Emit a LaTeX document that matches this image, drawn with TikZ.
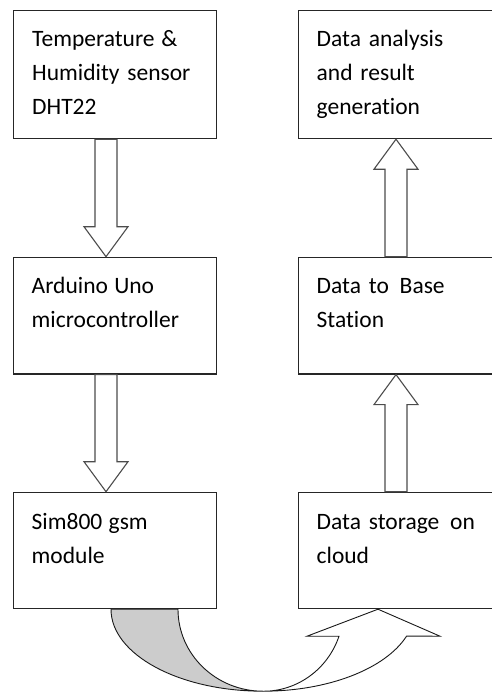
\documentclass[tikz,border=0pt]{standalone}
\usepackage{fontspec}
\setmainfont{Carlito}[Ligatures={NoCommon}]
\usetikzlibrary{calc}

\tikzset{
  blockbox/.style={draw=black!85, line width=1.2pt, anchor=north west, inner sep=0pt, minimum width=203pt, minimum height=116.7pt},
  blocktext/.style={anchor=north west, inner sep=0pt, text width=185pt, align=left, font=\fontsize{23.5}{34}\selectfont},
  fatarrow/.style={draw=black!70, line width=1.1pt, fill=white, line join=miter},
  bendback/.style={draw=black!90, line width=0.9pt, fill=gray!40},
  bendfront/.style={draw=black!90, line width=0.9pt, fill=white},
}

% block arrow from #1 (shaft end) to #2 (tip)
\newcommand{\blockarrow}[2]{%
  \draw[fatarrow] let \p1=(#1), \p2=(#2), \n1={sign(\y2-\y1)} in
    (\x1-11pt,\y1) -- (\x1-11pt,\y2-30pt*\n1) -- (\x1-22pt,\y2-30pt*\n1) -- (\x2,\y2)
    -- (\x1+22pt,\y2-30pt*\n1) -- (\x1+11pt,\y2-30pt*\n1) -- (\x1+11pt,\y1) -- cycle;}

\begin{document}
\begin{tikzpicture}[x=1pt,y=1pt,yscale=-1,xscale=1]
\useasboundingbox (0,0) rectangle (492,693);

%Shape: Rectangle
\node[blockbox, minimum height=128pt] (sensor) at (13,10) {};
%Shape: Rectangle
\node[blockbox, minimum height=128pt, minimum width=196pt] (analysis) at (298,10) {};
%Shape: Rectangle
\node[blockbox] (arduino) at (13,256.7) {};
%Shape: Rectangle
\node[blockbox, minimum width=196pt] (base) at (298,256.7) {};
%Shape: Rectangle
\node[blockbox, minimum height=116.3pt] (gsm) at (13,491.7) {};
%Shape: Rectangle
\node[blockbox, minimum height=116.3pt, minimum width=196pt] (cloud) at (298,491.7) {};

% Text Node
\node[blocktext] (sensortxt) at ([shift={(19,13)}]sensor.north west) {\strut Temperature\hspace{-1pt} \&\\Humidity sensor\\DHT22};
% Text Node
\node[blocktext] (analysistxt) at ([shift={(18.5,13)}]analysis.north west) {\strut Data analysis\\and result\\generation};
% Text Node
\node[blocktext] (arduinotxt) at ([shift={(18.5,13)}]arduino.north west) {\strut Arduino\hspace{-1.5pt} Uno\\microcontroller};
% Text Node
\node[blocktext] (basetxt) at ([shift={(18.5,13)}]base.north west) {\strut Data to\hspace{3pt} Base\\Station};
% Text Node
\node[blocktext] (gsmtxt) at ([shift={(18.5,13.5)}]gsm.north west) {\strut Sim800\hspace{-1.5pt} gsm\\module};
% Text Node
\node[blocktext] (cloudtxt) at ([shift={(18.5,13.5)}]cloud.north west) {\strut Data storage\hspace{3pt} on\\cloud};

%Block Arrows
\blockarrow{[xshift=93pt]sensor.south west}{[xshift=93pt]arduino.north west}
\blockarrow{[xshift=93pt]arduino.south west}{[xshift=93pt]gsm.north west}
\blockarrow{[xshift=98pt]cloud.north west}{[xshift=98pt]base.south west}
\blockarrow{[xshift=98pt]base.north west}{[xshift=98pt]analysis.south west}

%Curved Up Arrow
\coordinate (bendin) at ([xshift=98pt]gsm.south west);
\coordinate (bendlow) at ([shift={(152,82)}]bendin);
\coordinate (bendtip) at ([xshift=80pt]cloud.south west);
\draw[bendback] (bendin) arc[start angle=180, end angle=90, x radius=152, y radius=82]
  arc[start angle=90, end angle=180, x radius=85, y radius=82] -- cycle;
\draw[bendfront] (bendlow) arc[start angle=90, end angle=19.2, x radius=152, y radius=82]
  -- ($(bendtip)+(62,27)$) -- (bendtip) -- ($(bendtip)+(-71,27)$) -- ($(bendtip)+(-39,27)$)
  arc[start angle=19.2, end angle=90, x radius=80, y radius=82] -- cycle;

\end{tikzpicture}
\end{document}
